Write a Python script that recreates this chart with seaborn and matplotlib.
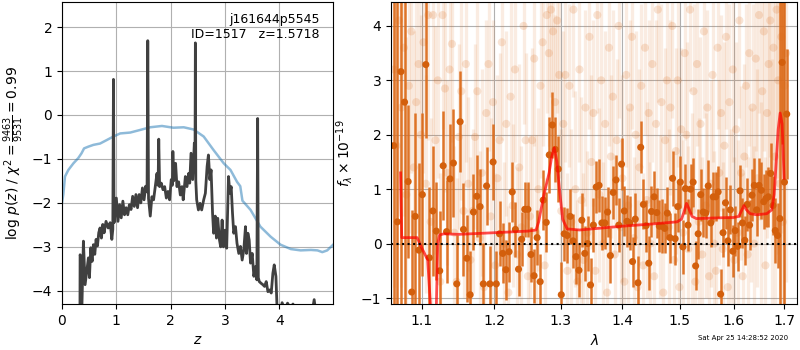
import numpy as np
import matplotlib
matplotlib.use("Agg")
import matplotlib.pyplot as plt
from matplotlib.ticker import FixedLocator, FixedFormatter, NullLocator
import seaborn as sns

# ---------------- redshift probability panel ----------------
z_pdf = [0.330, 0.333, 0.350, 0.362, 0.394, 0.425, 0.455, 0.486, 0.505, 0.529,
         0.554, 0.578, 0.603, 0.627, 0.652, 0.676, 0.700, 0.725, 0.750, 0.775,
         0.810, 0.850, 0.886, 0.917, 0.935, 0.947, 0.958, 0.970, 1.000, 1.030,
         1.060, 1.090, 1.120, 1.150, 1.180, 1.210, 1.240, 1.270, 1.300, 1.330,
         1.360, 1.390, 1.420, 1.450, 1.480, 1.510, 1.540, 1.565, 1.578, 1.592,
         1.624, 1.654, 1.685, 1.716, 1.747, 1.768, 1.780, 1.796, 1.827, 1.858,
         1.889, 1.920, 1.950, 1.980, 2.010, 2.030, 2.040, 2.055, 2.090, 2.115,
         2.146, 2.177, 2.208, 2.230, 2.270, 2.300, 2.330, 2.350, 2.374, 2.405,
         2.435, 2.447, 2.454, 2.462, 2.478, 2.510, 2.540, 2.570, 2.607, 2.638,
         2.670, 2.694, 2.720, 2.743, 2.770, 2.790, 2.820, 2.842, 2.866, 2.897,
         2.920, 2.946, 2.970, 3.000, 3.030, 3.064, 3.088, 3.113, 3.137, 3.160,
         3.192, 3.220, 3.253, 3.284, 3.315, 3.345, 3.376, 3.395, 3.420, 3.444,
         3.469, 3.500, 3.530, 3.560, 3.585, 3.600, 3.612, 3.630, 3.665, 3.696,
         3.727, 3.758, 3.789, 3.820, 3.850, 3.880, 3.905, 3.936, 3.960, 4.000,
         4.050, 4.100, 4.150, 4.200, 4.250, 4.300, 4.400, 4.500, 4.600, 4.640,
         4.680, 4.800, 4.990]
log_pz = [-4.6, -3.18, -3.25, -4.6, -2.87, -3.86, -3.55, -3.25, -3.70, -3.02,
          -3.33, -2.95, -3.17, -2.83, -2.98, -2.68, -2.57, -2.80, -2.49, -2.68,
          -2.42, -2.57, -2.45, -2.83, -2.6, 0.81, -2.45, -2.34, -1.89, -2.42,
          -2.04, -2.34, -1.96, -2.27, -2.11, -2.27, -2.04, -2.15, -1.85, -2.08,
          -1.81, -2.11, -1.81, -2.0, -1.66, -1.93, -1.62, -1.75, 1.69, -1.9,
          -2.3, -1.86, -1.93, -1.63, -1.33, -1.6, -0.55, -1.63, -1.55, -1.70,
          -1.63, -1.89, -1.74, -1.93, -1.47, -1.6, -0.83, -1.5, -1.10, -1.63,
          -1.52, -1.82, -1.63, -1.93, -1.40, -1.63, -1.33, -1.55, -0.87, -1.47,
          -0.64, -1.2, 1.64, -1.5, -1.93, -2.16, -2.01, -2.16, -1.93, -1.78,
          -1.17, -0.91, -1.47, -1.25, -2.23, -2.69, -2.30, -2.80, -2.35, -2.84,
          -3.0, -2.39, -3.0, -2.62, -3.03, -1.40, -1.78, -1.63, -2.23, -2.69,
          -2.54, -2.92, -3.15, -2.99, -3.30, -3.07, -2.54, -3.15, -2.69, -2.84,
          -3.37, -3.15, -3.67, -3.45, -3.75, -0.08, -3.7, -3.79, -3.83, -3.86,
          -3.90, -3.79, -4.02, -3.98, -4.05, -3.60, -3.41, -3.67, -4.5, -4.6,
          -4.27, -4.45, -4.28, -4.4, -4.3, -4.5, -4.7, -4.6, -4.5, -4.2,
          -4.6, -4.8, -4.9]

z_chi = [0.0, 0.025, 0.055, 0.117, 0.21, 0.30, 0.36, 0.406, 0.486, 0.578,
         0.70, 0.824, 0.947, 1.07, 1.255, 1.44, 1.62, 1.84, 2.05, 2.24,
         2.42, 2.607, 2.79, 2.976, 3.10, 3.22, 3.28, 3.32, 3.47, 3.65,
         3.84, 4.02, 4.21, 4.39, 4.58, 4.70, 4.79, 4.88, 4.99]
chi2_scaled = [-2.0, -1.8, -1.40, -1.25, -1.10, -0.98, -0.87, -0.76, -0.72, -0.68,
               -0.65, -0.57, -0.49, -0.42, -0.40, -0.34, -0.28, -0.25, -0.29, -0.28,
               -0.33, -0.49, -0.80, -1.10, -1.25, -1.52, -1.62, -1.95, -2.16, -2.54,
               -2.77, -2.95, -3.05, -3.08, -3.07, -3.08, -3.12, -3.08, -2.95]

root_name = "j161644p5545"
obj_id = 1517
z_best = 1.5718
chi2_num, chi2_den = 9463, 9531

# ---------------- 1D spectrum panel ----------------
wave_start, wave_step = 1.0637, 0.00465
flux_bin = [1.8, 0.4,
            3.16, 2.6, 1.14, -0.89, 0.5, -0.12, 0.9, 3.29, -0.26, 0.6,
            0.23, -0.5, 1.43, 0.22, 1.19, 1.48, -0.74, 2.24, 0.26, -0.27,
            -0.94, 0.58, 0.87, 0.68, -0.74, 1.06, -0.74, 1.50,
            -0.74, 0.18, -0.18, -0.48, -0.15, 0.95, 0.26, -0.47, 0.08, 0.63,
            0.63, -0.2, -0.59, 0.11, -0.7, 0.8, 0.39, 1.63, 2.18, 1.73,
            1.37, -0.94, 0.18, 0.15, 0.5, 0.05, -0.24, -0.49, 0.43, -0.18,
            0.0, -0.76,
            0.34, 1.04, 1.07, 0.38, 0.38, 0.58, -0.22, 0.94, 1.17, 0.34,
            1.46, 0.6, 0.41, 0.38, -0.33, 0.45, -0.72, 1.77, 0.72, 0.33,
            -0.36, 0.59, 0.86, 0.57, 0.32, 0.32, 0.28, 0.56, 0.11, 1.2,
            0.09, 0.68, 1.13, -0.06, 1.01, 0.34, 1.0, 1.13,
            -0.41, 0.18, 0.9, 0.58, 0.56, 1.06, 0.38, 0.86, 0.86, 0.95,
            -0.93, 0.2, 0.75, 0.05, 0.62, -0.14, 0.24, -0.05, 0.97, 0.38,
            0.06, 0.72, 0.34, 0.89, 1.07, 0.62, 1.07, 0.98, 0.77, 0.83,
            0.86, 1.29, 0.7, 0.24, 0.15, 0.46, 3.33, 1.13, 2.38]
err_bin = [6.0, 6.0,
           5.0, 4.0, 1.4, 1.5, 1.9, 1.6, 1.5, 1.35, 1.3, 1.2,
           0.9, 1.1, 1.0, 0.95, 1.0, 1.0, 0.9, 0.93, 0.85, 0.8,
           0.8, 0.7, 0.75, 0.7, 0.75, 0.72, 0.7, 0.7,
           0.6, 0.6, 0.55, 0.55, 0.55, 0.55, 0.5, 0.5, 0.5, 0.5,
           0.5, 0.5, 0.5, 0.5, 0.5, 0.55, 0.55, 0.7, 0.6, 0.6,
           0.6, 0.6, 0.5, 0.5, 0.5, 0.5, 0.5, 0.5, 0.5, 0.5,
           0.5, 0.5,
           0.5, 0.48, 0.48, 0.5, 0.48, 0.46, 0.5, 0.48, 0.46, 0.5,
           0.48, 0.46, 0.48, 0.5, 0.46, 0.48, 0.5, 0.48, 0.46, 0.48,
           0.5, 0.46, 0.48, 0.46, 0.48, 0.5, 0.46, 0.48, 0.46, 0.5,
           0.48, 0.46, 0.48, 0.5, 0.46, 0.48, 0.46, 0.45,
           0.45, 0.46, 0.48, 0.45, 0.46, 0.48, 0.45, 0.46, 0.45, 0.48,
           0.46, 0.45, 0.48, 0.46, 0.45, 0.48, 0.46, 0.45, 0.48, 0.46,
           0.45, 0.48, 0.46, 0.48, 0.5, 0.48, 0.5, 0.52, 0.5, 0.52,
           0.55, 0.55, 0.55, 0.6, 0.6, 4.0, 1.5, 5.0, 1.2]

raw_start, raw_step = 1.064, 0.0032
flux_raw = [3.2, 1.8, 4.1, 2.5, 3.6, 0.9, 2.9, 3.9, 1.4, 2.6,
            3.3, 2.0, 3.7, 1.1, 4.2, 0.4, 4.2, 1.9, 3.0, -0.7,
            4.2, 2.85, 1.3, 3.2, 3.67, 0.2, -0.7, 1.96, 2.8, 0.6,
            3.3, 1.1, -0.3, 0.6, 1.96, 2.8, 0.1, 1.3, -0.8, 2.4,
            3.3, 0.5, 2.6, -0.4, 1.2, 1.9, 3.7, 0.0, 2.2, -0.9,
            2.7, 0.7, 3.2, -0.2, 1.4, 0.3, 4.0, 1.9, -0.6, 0.5,
            1.9, 3.4, 0.2, 1.0, 2.9, 3.7, -0.4, 4.2, 3.5, 4.3,
            3.9, 2.6, 4.1, 3.1, 0.6, 2.2, 3.1, -0.5, 2.9, 0.4,
            4.3, 1.0, -0.7, 3.2, 0.8, -0.3, 2.5, 0.2, 3.8, 1.5,
            2.4, -0.5, 4.2, 0.9, 3.0, 0.0, 2.2, -0.9, 3.6, 1.6,
            2.7, -0.2, 1.9, 4.0, 0.3, 1.2, -0.7, 3.1, 0.7, 2.5,
            3.8, 0.1, 2.0, -0.8, 1.4, 2.9, -0.4, 3.6, 0.8, 2.4,
            0.0, 3.3, -0.6, 2.2, 4.3, 0.5, 2.6, -0.9, 1.9, 3.0,
            0.3, 2.5, 4.0, -0.3, 1.7, 3.0, -0.8, 2.1, 0.2, 3.5,
            2.0, -0.1, 4.3, 0.6, 2.8, -0.7, 3.3, 0.4, 2.2, -0.2,
            3.9, 0.7, 2.5, -0.6, 1.1, 3.1, 0.0, -0.5, 3.6, 1.3,
            2.4, -0.1, 1.8, 3.8, -0.8, 2.6, 0.5, 3.2, -0.3, 2.1,
            0.2, 4.1, 1.3, -0.6, 1.6, 2.9, -0.2, 3.5, 0.9, 2.5,
            0.0, 3.4, 1.2, 4.2, 0.5, 2.8, 3.9, -0.4, 2.4, 3.3,
            4.1, 0.8, 3.6, 1.6, 4.3, 3.0, 1.1, 3.8, 0.4, 2.9, 3.5]
err_raw = [4.0, 3.8, 3.6, 3.3, 3.1, 2.9, 2.7, 2.6, 2.5, 2.4,
           2.3, 2.2, 2.4, 2.0, 2.3, 1.9, 2.2, 2.1, 1.8, 2.0,
           2.1, 1.9, 1.7, 2.0, 1.8, 1.6, 1.9, 1.7, 2.0, 1.6,
           1.8, 1.6, 1.9, 1.5, 1.7, 1.8, 1.6, 1.9, 1.5, 1.7,
           1.6, 1.8, 1.5, 1.7, 1.9, 1.6, 1.8, 1.5, 1.7, 1.6,
           1.8, 1.5, 1.7, 1.6, 1.9, 1.5, 1.8, 1.6, 1.7, 1.5,
           1.7, 1.6, 1.8, 1.5, 1.7, 1.9, 1.6, 1.8, 1.7, 1.6,
           1.8, 1.6, 1.7, 1.9, 1.5, 1.7, 1.6, 1.8, 1.5, 1.7,
           1.6, 1.8, 1.5, 1.7, 1.9, 1.6, 1.8, 1.5, 1.7, 1.6,
           1.7, 1.5, 1.8, 1.6, 1.9, 1.5, 1.7, 1.6, 1.8, 1.5,
           1.6, 1.8, 1.5, 1.7, 1.6, 1.9, 1.5, 1.7, 1.8, 1.6,
           1.7, 1.5, 1.9, 1.6, 1.8, 1.5, 1.7, 1.6, 1.8, 1.7,
           1.5, 1.8, 1.6, 1.9, 1.7, 1.5, 1.8, 1.6, 1.7, 1.5,
           1.8, 1.6, 1.7, 1.5, 1.9, 1.6, 1.8, 1.5, 1.7, 1.6,
           1.7, 1.9, 1.5, 1.8, 1.6, 1.7, 1.5, 1.9, 1.6, 1.8,
           1.6, 1.7, 1.8, 1.5, 1.9, 1.6, 1.7, 1.8, 1.5, 1.7,
           1.8, 1.6, 1.9, 1.7, 1.5, 1.8, 1.6, 1.7, 1.9, 1.6,
           1.7, 1.8, 1.6, 1.9, 1.7, 1.5, 1.8, 1.7, 1.6, 1.9,
           1.8, 1.7, 2.0, 1.8, 2.1, 1.9, 2.2, 2.0, 2.3, 2.4,
           2.5, 2.6, 2.8, 2.9, 3.1, 3.2, 3.4, 3.6, 3.8, 4.0, 4.2]

model_wave = [1.0725, 1.0740, 1.0940, 1.0995, 1.1080, 1.1120, 1.1160, 1.1190, 1.1215, 1.1240,
              1.1300, 1.1500, 1.2000, 1.2500, 1.2620, 1.2660, 1.2700, 1.2740, 1.2780, 1.2820,
              1.2860, 1.2900, 1.2940, 1.2980, 1.3030, 1.3100, 1.3300, 1.4000, 1.4500, 1.4950,
              1.5030, 1.5080, 1.5120, 1.5160, 1.5220, 1.5300, 1.5600, 1.6000, 1.6100, 1.6150,
              1.6200, 1.6250, 1.6320, 1.6450, 1.6650, 1.6750, 1.6800, 1.6840, 1.6880, 1.6920,
              1.6960, 1.7000]
model_flux = [1.30, 0.11, 0.11, -0.06, -0.30, -1.2, -3.0, -1.5, 0.0, 0.16,
              0.18, 0.17, 0.20, 0.23, 0.25, 0.40, 0.65, 0.90, 1.10, 1.30,
              1.60, 1.76, 1.50, 1.00, 0.45, 0.27, 0.25, 0.32, 0.36, 0.40,
              0.45, 0.60, 0.74, 0.65, 0.50, 0.46, 0.47, 0.48, 0.50, 0.60,
              0.70, 0.62, 0.55, 0.53, 0.55, 0.62, 0.90, 1.50, 2.10, 2.40,
              2.20, 1.20]

wave_ticks = [1.1, 1.2, 1.3, 1.4, 1.5, 1.6, 1.7]
timestamp = "Sat Apr 25 14:28:52 2020"

wave_bin = wave_start + wave_step * np.arange(len(flux_bin))
wave_raw = raw_start + raw_step * np.arange(len(flux_raw))

orange = "#dc6a18"
grid_kw = dict(color="#b0b0b0", lw=0.8)

fig = plt.figure(figsize=(8, 3.5), dpi=100)
ax1 = fig.add_axes([0.0775, 0.1314, 0.339, 0.8629])
ax2 = fig.add_axes([0.489, 0.1314, 0.5075, 0.8629])

# left: p(z)
sns.lineplot(x=z_chi, y=chi2_scaled, ax=ax1, color="tab:blue", alpha=0.5, lw=1.8,
             estimator=None, sort=False)
sns.lineplot(x=z_pdf, y=log_pz, ax=ax1, color="0.25", lw=2.0,
             estimator=None, sort=False)
ax1.set_xlim(0, 4.99)
ax1.set_ylim(-4.3, 2.57)
ax1.set_xticks([0, 1, 2, 3, 4])
ax1.set_yticks([-4, -3, -2, -1, 0, 1, 2])
ax1.set_axisbelow(True)
ax1.grid(True, **grid_kw)
ax1.set_xlabel(r"$z$", fontsize=10)
ax1.set_ylabel(r"log $p(z)$ / $\chi^2=\frac{%d}{%d}=%.2f$"
               % (chi2_num, chi2_den, chi2_num / chi2_den), fontsize=10)
ax1.text(0.95, 0.965, "%s\nID=%d   z=%.4f" % (root_name, obj_id, z_best),
         transform=ax1.transAxes, ha="right", va="top", fontsize=9)

# right: spectrum
ax2.set_xscale("log")
ax2.errorbar(wave_raw, flux_raw, yerr=err_raw, fmt="none", ecolor=orange,
             elinewidth=2.4, alpha=0.12, zorder=1)
sns.scatterplot(x=wave_raw, y=flux_raw, ax=ax2, color=orange, alpha=0.18, s=34,
                edgecolor="none", linewidth=0, zorder=1.2)
ax2.errorbar(wave_bin, flux_bin, yerr=err_bin, fmt="none", ecolor=orange,
             elinewidth=1.8, alpha=0.92, zorder=2)
sns.scatterplot(x=wave_bin, y=flux_bin, ax=ax2, color="#d35f0c", s=26,
                edgecolor="none", linewidth=0, zorder=2.2)
sns.lineplot(x=model_wave, y=model_flux, ax=ax2, color="red", alpha=0.7, lw=2.0,
             estimator=None, zorder=3)
ax2.axhline(0, color="black", ls=":", lw=1.5, zorder=4)

ax2.set_xlim(1.0605, 1.727)
ax2.set_ylim(-1.11, 4.44)
ax2.xaxis.set_major_locator(FixedLocator(wave_ticks))
ax2.xaxis.set_major_formatter(FixedFormatter(["%.1f" % w for w in wave_ticks]))
ax2.xaxis.set_minor_locator(NullLocator())
ax2.set_yticks([-1, 0, 1, 2, 3, 4])
ax2.set_axisbelow(True)
ax2.grid(True, **grid_kw)
ax2.set_xlabel(r"$\lambda$", fontsize=10)
ax2.set_ylabel(r"$f_\lambda\times10^{-19}$", fontsize=10)

fig.text(0.985, 0.025, timestamp, ha="right", va="bottom", fontsize=5)

fig.savefig("out.png", dpi=100)
